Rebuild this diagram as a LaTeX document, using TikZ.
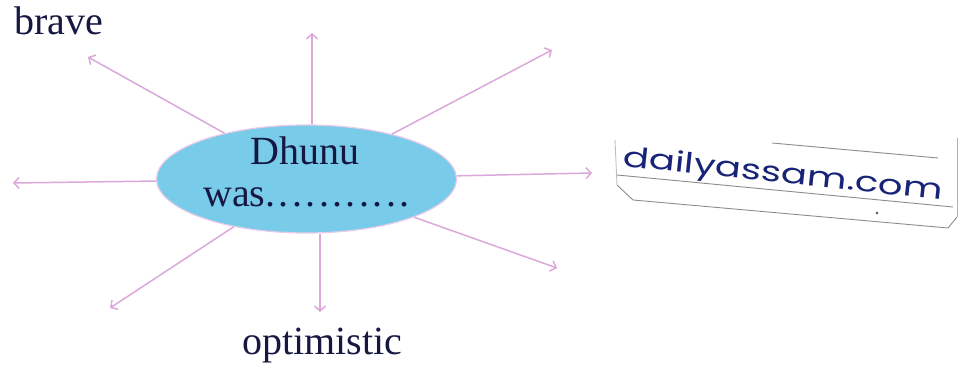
\documentclass[tikz,border=0pt]{standalone}
\usepackage{fontspec}
\setmainfont{Liberation Serif}
\newfontfamily\handfont{Poppins}
\usetikzlibrary{arrows.meta,shapes.geometric}
\definecolor{inkblue}{RGB}{22,24,66}
\definecolor{skyfill}{RGB}{120,204,234}
\definecolor{pinkline}{RGB}{218,168,218}
\definecolor{penblue}{RGB}{24,36,120}
\tikzset{
  ray/.style={draw=pinkline, line width=1.5pt, -{Straight Barb[length=5pt,width=11pt]}},
  word/.style={font=\fontsize{40}{42}\selectfont, text=inkblue, inner sep=0pt},
  paperline/.style={draw=black!45, line width=0.9pt}
}
\newcommand\dd{.\kern3.4pt}
\begin{document}
\begin{tikzpicture}[x=1pt,y=1pt]
\useasboundingbox (0,0) rectangle (968,364);
% central ellipse
\node[ellipse, draw=pinkline!60, line width=1.2pt, fill=skyfill, minimum width=300pt, minimum height=108pt, inner sep=0pt] (e) at (306.5,185) {};
\node[word, anchor=base] (t1) at (305,199) {Dhunu};
\node[word, anchor=base west] (t2) at (203,157) {was\dd\dd\dd\dd\dd\dd\dd\dd\dd\dd.};
% arrow tips
\coordinate (tU) at (312,331);
\coordinate (tUR) at (552,314);
\coordinate (tR) at (592,191);
\coordinate (tDR) at (557,96);
\coordinate (tD) at (320,52);
\coordinate (tDL) at (110,56);
\coordinate (tL) at (13,181);
\coordinate (tUL) at (88,307);
\draw[ray] (e.north -| tU) -- (tU);
\draw[ray] (e) -- (tUR);
\draw[ray] (e) -- (tR);
\draw[ray] (e) -- (tDR);
\draw[ray] (e.south -| tD) -- (tD);
\draw[ray] (e) -- (tDL);
\draw[ray] (e) -- (tL);
\draw[ray] (e) -- (tUL);
% labels
\node[word, anchor=base west] (brave) at (14,329) {brave};
\node[word, anchor=base west] (opt) at (242,10) {optimistic};
% paper label
\fill[white] (615,224) -- (617,179) -- (633,164) -- (948,136) -- (957,147) -- (957,226) -- cycle;
\draw[paperline] (617,179) -- (633,164) -- (948,136) -- (957,147);
\draw[paperline, black!25] (615,224) -- (617,179);
\draw[paperline, black!30] (957,147) -- (957,226);
\draw[paperline] (772,221) -- (938,206);
\draw[paperline] (617,189) -- (953,157);
\fill[black!70] (877,151) circle (1.3pt);
\begin{scope}[shift={(782,181)}, rotate=-6, xscale=1.38]
\node[transform shape, anchor=base, font=\handfont\fontsize{28}{30}\selectfont, text=penblue, inner sep=0pt] (web) at (0,0) {dailyassam.com};
\end{scope}
\end{tikzpicture}
\end{document}
